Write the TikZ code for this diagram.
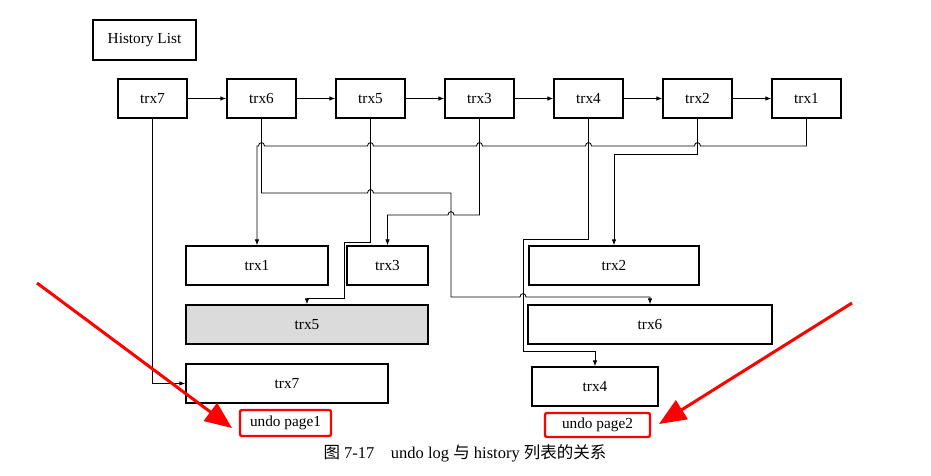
\documentclass[tikz,border=0pt]{standalone}
\usepackage{fontspec}
\setmainfont{Liberation Serif}
\newfontfamily\cjk{Noto Sans CJK SC}
\usetikzlibrary{arrows.meta}
% small bump where a horizontal line jumps over a vertical one
\newcommand\hopL[2]{-- ({#1+3},#2) .. controls ({#1+3},{#2-4.5}) and ({#1-3},{#2-4.5}) .. ({#1-3},#2)}
\newcommand\hopR[2]{-- ({#1-3},#2) .. controls ({#1-3},{#2-4.5}) and ({#1+3},{#2-4.5}) .. ({#1+3},#2)}
\begin{document}
\begin{tikzpicture}[x=1pt,y=-1pt,
  box/.style={draw,line width=1.3pt,minimum height=39pt,inner sep=0pt,
    font=\fontsize{15.3}{18}\selectfont},
  trx/.style={box,minimum width=69pt},
  link/.style={line width=0.85pt,-{Latex[length=6pt,width=4.5pt]}},
  page/.style={draw=red,line width=2.4pt,rounded corners=2pt,inner sep=0pt,
    font=\fontsize{15.3}{18}\selectfont},
  pointer/.style={red,line width=3pt,-{Triangle[length=27pt,width=22pt]}}]
\useasboundingbox (0,0) rectangle (931,475);

% header
\node[box,minimum width=103pt,minimum height=40pt] (hl) at (144.5,40) {History List};

% history list, newest first
\node[trx] (t7) at (152.5,98.5) {trx7};
\node[trx] (t6) at (261.5,98.5) {trx6};
\node[trx] (t5) at (370.5,98.5) {trx5};
\node[trx] (t3) at (479.5,98.5) {trx3};
\node[trx] (t4) at (588.5,98.5) {trx4};
\node[trx] (t2) at (697.5,98.5) {trx2};
\node[trx] (t1) at (806.5,98.5) {trx1};
\foreach \a/\b in {t7/t6,t6/t5,t5/t3,t3/t4,t4/t2,t2/t1}
  \draw[link] (\a.east) -- (\b.west);

% undo records in the two undo pages
\node[box,minimum width=142pt] (b1) at (257,265.5) {trx1};
\node[box,minimum width=81pt] (b3) at (387.5,265.5) {trx3};
\node[box,minimum width=242pt,fill=gray!28] (b5) at (307,324.5) {trx5};
\node[box,minimum width=202pt] (b7) at (287,383.5) {trx7};
\node[box,minimum width=170pt] (b2) at (614,265.5) {trx2};
\node[box,minimum width=244pt] (b6) at (650,324.5) {trx6};
\node[box,minimum width=126pt] (b4) at (595,386.5) {trx4};

\node[page,minimum width=91pt,minimum height=26pt] (u1) at (285.5,423) {undo page1};
\node[page,minimum width=105pt,minimum height=24pt] (u2) at (597.5,425) {undo page2};

% links from the list to the records
\draw[link] (t1.south) -- (806.5,146) \hopL{697.5}{146} \hopL{588.5}{146}
  \hopL{479.5}{146} \hopL{370.5}{146} \hopL{261.5}{146} -- (257,146) -- (b1.north);
\draw[link] (t2.south) -- (697.5,154) -| (b2.north);
\draw[link] (t4.south) -- (588.5,239) -- (523,239) -- (523,351) -| (b4.north);
\draw[link] (t3.south) -- (479.5,215) \hopL{451}{215} -- (387.5,215) -- (b3.north);
\draw[link] (t5.south) -- (370.5,242) -- (344,242) -- (344,298) -| (b5.north);
\draw[link] (t6.south) -- (261.5,193) \hopR{370.5}{193} -- (451,193) -- (451,297)
  \hopR{523}{297} -- (650,297) -- (b6.north);
\draw[link] (t7.south) |- (b7.west);

% red pointers to the two pages
\coordinate (p1) at (37,283);
\coordinate (p1e) at (232,428);
\coordinate (p2) at (852,303);
\coordinate (p2e) at (659,424);
\draw[pointer] (p1) -- (p1e);
\draw[pointer] (p2) -- (p2e);

% caption
\node[font=\fontsize{16.5}{19}\selectfont,inner sep=0pt] (cap) at (465,453)
  {{\cjk 图}\ 7-17\quad undo log {\cjk 与} history {\cjk 列表的关系}};
\end{tikzpicture}
\end{document}
